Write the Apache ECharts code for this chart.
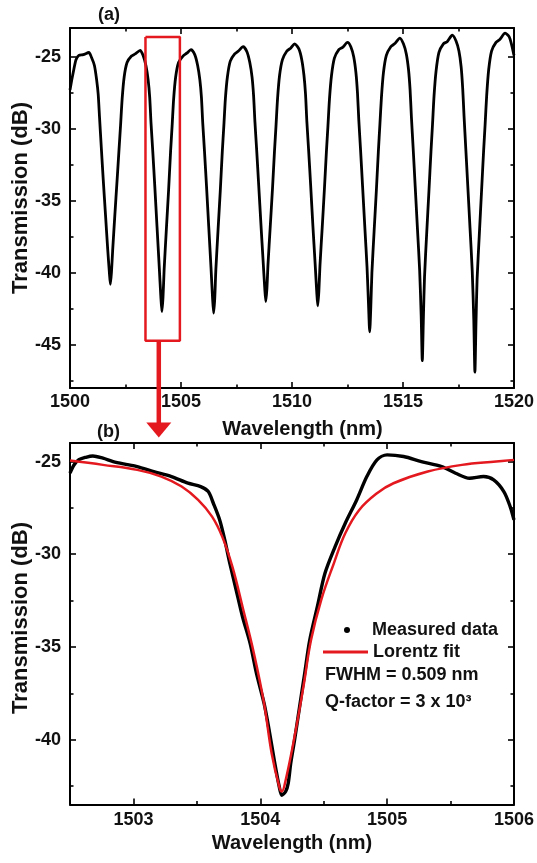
<!DOCTYPE html>
<html><head><meta charset="utf-8">
<script src="https://cdn.jsdelivr.net/npm/echarts@6/dist/echarts.min.js"></script>
<style>html,body{margin:0;padding:0;background:#fff}#c{width:537px;height:863px}</style>
</head><body><div id="c"></div>
<script>
// ---- Panel (a): transmission spectrum, wavelength (nm) vs dB ----
const spectrumA = [
[1500.00,-27.3],[1500.08,-26.6],[1500.17,-25.9],[1500.27,-25.2],[1500.40,-24.9],[1500.60,-24.85],[1500.85,-24.7],
[1500.97,-25.05],[1501.10,-25.6],[1501.20,-26.6],[1501.27,-27.6],[1501.33,-29.2],[1501.41,-31.3],[1501.50,-33.6],[1501.60,-36.0],[1501.70,-38.4],[1501.77,-39.9],[1501.82,-40.8],
[1501.87,-39.9],[1501.92,-38.5],[1502.02,-36.0],[1502.12,-33.6],[1502.21,-31.4],[1502.28,-29.7],[1502.35,-27.9],[1502.44,-26.4],[1502.57,-25.4],[1502.77,-24.95],[1502.94,-24.8],[1503.16,-24.55],
[1503.29,-24.9],[1503.42,-25.6],[1503.52,-26.6],[1503.59,-27.8],[1503.65,-29.6],[1503.73,-31.6],[1503.82,-34.0],[1503.92,-36.8],[1504.02,-39.6],[1504.09,-41.6],[1504.14,-42.7],
[1504.19,-41.7],[1504.24,-39.8],[1504.34,-37.0],[1504.44,-34.3],[1504.53,-31.6],[1504.60,-29.8],[1504.67,-27.9],[1504.76,-26.4],[1504.89,-25.4],[1505.09,-24.95],[1505.26,-24.75],[1505.45,-24.5],
[1505.62,-24.85],[1505.75,-25.6],[1505.85,-26.6],[1505.92,-27.8],[1505.98,-29.6],[1506.06,-31.6],[1506.15,-34.0],[1506.25,-36.8],[1506.35,-39.6],[1506.42,-41.7],[1506.47,-42.8],
[1506.52,-41.8],[1506.57,-39.8],[1506.67,-37.0],[1506.77,-34.3],[1506.86,-31.6],[1506.93,-29.8],[1507.00,-27.9],[1507.09,-26.4],[1507.22,-25.3],[1507.42,-24.8],[1507.59,-24.6],[1507.80,-24.3],
[1507.97,-24.65],[1508.10,-25.4],[1508.20,-26.4],[1508.27,-27.7],[1508.33,-29.5],[1508.41,-31.5],[1508.50,-33.9],[1508.60,-36.6],[1508.70,-39.2],[1508.77,-41.0],[1508.82,-42.0],
[1508.87,-41.1],[1508.92,-39.4],[1509.02,-36.8],[1509.12,-34.2],[1509.21,-31.6],[1509.28,-29.8],[1509.35,-27.9],[1509.44,-26.3],[1509.57,-25.2],[1509.77,-24.6],[1509.94,-24.4],[1510.12,-24.1],
[1510.31,-24.45],[1510.44,-25.2],[1510.54,-26.3],[1510.61,-27.6],[1510.67,-29.5],[1510.75,-31.5],[1510.84,-33.9],[1510.94,-36.7],[1511.04,-39.3],[1511.11,-41.2],[1511.16,-42.3],
[1511.21,-41.3],[1511.26,-39.5],[1511.36,-36.9],[1511.46,-34.2],[1511.55,-31.6],[1511.62,-29.8],[1511.69,-27.9],[1511.78,-26.3],[1511.91,-25.1],[1512.11,-24.5],[1512.28,-24.35],[1512.50,-24.0],
[1512.65,-24.3],[1512.78,-25.0],[1512.88,-26.1],[1512.95,-27.5],[1513.01,-29.4],[1513.09,-31.5],[1513.18,-34.0],[1513.28,-36.8],[1513.38,-39.6],[1513.45,-42.3],[1513.50,-44.1],
[1513.55,-42.4],[1513.60,-40.0],[1513.70,-37.1],[1513.80,-34.3],[1513.89,-31.6],[1513.96,-29.7],[1514.03,-27.8],[1514.12,-26.1],[1514.25,-24.9],[1514.45,-24.3],[1514.62,-24.1],[1514.86,-23.7],
[1515.02,-24.1],[1515.15,-24.8],[1515.25,-25.9],[1515.32,-27.3],[1515.38,-29.2],[1515.46,-31.4],[1515.55,-34.0],[1515.65,-36.9],[1515.75,-39.8],[1515.82,-43.0],[1515.87,-46.1],
[1515.92,-43.1],[1515.97,-40.3],[1516.07,-37.2],[1516.17,-34.3],[1516.26,-31.6],[1516.33,-29.7],[1516.40,-27.7],[1516.49,-26.0],[1516.62,-24.7],[1516.82,-24.1],[1516.99,-23.95],[1517.22,-23.5],
[1517.39,-23.9],[1517.52,-24.6],[1517.62,-25.7],[1517.69,-27.2],[1517.75,-29.1],[1517.83,-31.4],[1517.92,-34.0],[1518.02,-36.9],[1518.12,-39.9],[1518.19,-43.3],[1518.24,-46.9],
[1518.29,-43.4],[1518.34,-40.4],[1518.44,-37.3],[1518.54,-34.3],[1518.63,-31.6],[1518.70,-29.7],[1518.77,-27.7],[1518.86,-25.9],[1518.99,-24.6],[1519.19,-24.0],[1519.36,-23.8],[1519.60,-23.35],
[1519.78,-23.6],[1519.90,-24.2],[1520.00,-24.9]
];
// zoom box drawn on panel (a) and the arrow position, data coordinates
const zoomBox = [[1503.40,-23.62],[1504.95,-23.62],[1504.95,-44.72],[1503.40,-44.72],[1503.40,-23.62]];
const arrowX = 1504.0;

// ---- Panel (b): single resonance ----
const measuredB = [
[1502.50,-25.63],[1502.53,-25.2],[1502.57,-24.9],[1502.62,-24.78],[1502.68,-24.7],[1502.76,-24.82],[1502.84,-25.0],[1502.94,-25.15],
[1503.03,-25.27],[1503.16,-25.54],[1503.30,-25.81],[1503.43,-26.17],[1503.53,-26.35],[1503.59,-26.62],[1503.63,-27.25],[1503.68,-28.15],
[1503.72,-29.23],[1503.76,-30.49],[1503.81,-31.93],[1503.86,-33.37],[1503.92,-34.81],[1503.97,-36.43],[1504.03,-38.05],[1504.07,-39.49],
[1504.11,-41.1],[1504.15,-42.55],[1504.17,-43.0],[1504.20,-42.8],[1504.22,-42.36],[1504.24,-41.28],[1504.27,-40.03],[1504.31,-38.23],
[1504.35,-36.43],[1504.39,-34.63],[1504.45,-32.83],[1504.51,-31.03],[1504.59,-29.59],[1504.67,-28.33],[1504.76,-27.07],[1504.84,-25.81],
[1504.92,-24.91],[1505.00,-24.64],[1505.13,-24.73],[1505.27,-25.0],[1505.43,-25.27],[1505.54,-25.63],[1505.65,-25.9],[1505.76,-25.81],
[1505.84,-25.99],[1505.92,-26.62],[1505.97,-27.43],[1506.00,-28.15]
];
const lorentzB = [
[1502.50,-24.95],[1502.76,-25.18],[1503.03,-25.45],[1503.22,-25.81],[1503.38,-26.35],[1503.51,-27.07],[1503.62,-27.97],[1503.70,-29.05],
[1503.78,-30.67],[1503.86,-32.83],[1503.95,-35.35],[1504.03,-38.05],[1504.09,-40.75],[1504.15,-42.55],[1504.17,-42.8],[1504.20,-42.19],
[1504.27,-39.85],[1504.34,-37.15],[1504.40,-34.63],[1504.48,-32.47],[1504.58,-30.49],[1504.67,-28.87],[1504.78,-27.61],[1504.92,-26.71],
[1505.05,-26.17],[1505.32,-25.54],[1505.59,-25.18],[1505.86,-25.0],[1506.00,-24.91]
];

// ---- Axis ticks ----
const xTicksA = [1500,1505,1510,1515,1520];
const xMinorA = [1502.5,1507.5,1512.5,1517.5];
const yTicksA = [-45,-40,-35,-30,-25];
const yMinorA = [-47.5,-42.5,-37.5,-32.5,-27.5];
const xTicksB = [1503,1504,1505,1506];
const xMinorB = [1503.5,1504.5,1505.5];
const yTicksB = [-40,-35,-30,-25];
const yMinorB = [-42.5,-37.5,-32.5,-27.5];
const rangeA = {xmin:1500, xmax:1520, ymin:-48, ymax:-23};
const rangeB = {xmin:1502.5, xmax:1506, ymin:-43.5, ymax:-24};

const FONT = "'Liberation Sans', Arial, Helvetica, sans-serif";
const RED = '#e3191f';

function axisSet(dim, grid, min, max, major, minor, margin, extra) {
  const p1 = dim === 'x' ? 'bottom' : 'left';
  const p2 = dim === 'x' ? 'top' : 'right';
  const base = {type:'value', gridIndex:grid, min:min, max:max, splitLine:{show:false}};
  const line = {show:true, onZero:false, lineStyle:{color:'#000', width:2}};
  const majT = {show:true, inside:true, length:6, customValues:major, lineStyle:{color:'#000', width:1.6}};
  const minT = {show:true, inside:true, length:3.5, customValues:minor, lineStyle:{color:'#000', width:1.6}};
  return [
    Object.assign({}, base, {position:p1, axisLine:line, axisTick:majT,
      axisLabel:{customValues:major, formatter:function(v){return String(v);},
        fontFamily:FONT, fontWeight:'bold', fontSize:18, color:'#111', margin:margin}}, extra || {}),
    Object.assign({}, base, {position:p1, axisLine:{show:false, onZero:false}, axisTick:minT, axisLabel:{show:false}}),
    Object.assign({}, base, {position:p2, axisLine:line, axisTick:majT, axisLabel:{show:false}}),
    Object.assign({}, base, {position:p2, axisLine:{show:false, onZero:false}, axisTick:minT, axisLabel:{show:false}})
  ];
}

const chart = echarts.init(document.getElementById('c'), null, {renderer:'canvas'});
const xAxes = [].concat(
  axisSet('x', 0, rangeA.xmin, rangeA.xmax, xTicksA, xMinorA, 5,
    {name:'Wavelength (nm)', nameLocation:'middle', nameGap:31,
     nameTextStyle:{fontFamily:FONT, fontWeight:'bold', fontSize:20, color:'#111', padding:[0,0,0,21]}}),
  axisSet('x', 1, rangeB.xmin, rangeB.xmax, xTicksB, xMinorB, 7,
    {name:'Wavelength (nm)', nameLocation:'middle', nameGap:29,
     nameTextStyle:{fontFamily:FONT, fontWeight:'bold', fontSize:20, color:'#111'}})
);
const yAxes = [].concat(
  axisSet('y', 0, rangeA.ymin, rangeA.ymax, yTicksA, yMinorA, 9),
  axisSet('y', 1, rangeB.ymin, rangeB.ymax, yTicksB, yMinorB, 9)
);

const legendText = {fontFamily:FONT, fontWeight:'bold', fontSize:18, color:'#111'};
const txt = (t, x, y, size) => ({type:'text', x:x, y:y, z:10,
  style:{text:t, fontFamily:FONT, fontWeight:'bold', fontSize:size, fill:'#111', textAlign:'left', textVerticalAlign:'middle'}});
const vtxt = (t, x, y) => ({type:'text', x:x, y:y, z:10, rotation:Math.PI/2,
  style:{text:t, fontFamily:FONT, fontWeight:'bold', fontSize:22, fill:'#111', textAlign:'center', textVerticalAlign:'middle'}});

chart.setOption({
  animation:false,
  backgroundColor:'#fff',
  grid:[
    {left:70, right:20, top:28, bottom:475},
    {left:70, right:20, top:443, bottom:58.5}
  ],
  xAxis:xAxes,
  yAxis:yAxes,
  legend:[
    {left:344, top:621, padding:0, itemWidth:6, itemHeight:6,
     data:[{name:'Measured data', icon:'circle'}],
     textStyle:Object.assign({padding:[0,0,0,17]}, legendText)},
    {left:323, top:643, padding:0, itemWidth:45, itemHeight:3,
     data:[{name:'Lorentz fit', icon:'rect'}],
     textStyle:legendText}
  ],
  series:[
    {type:'line', name:'Spectrum', xAxisIndex:0, yAxisIndex:0, data:spectrumA, showSymbol:false,
     smooth:0.25, lineStyle:{color:'#000', width:2.8}, itemStyle:{color:'#000'}},
    {type:'line', name:'box', xAxisIndex:0, yAxisIndex:0, data:zoomBox, showSymbol:false,
     lineStyle:{color:RED, width:2.5}, itemStyle:{color:RED}, z:5},
    {type:'line', name:'Measured data', xAxisIndex:4, yAxisIndex:4, data:measuredB, showSymbol:false,
     smooth:0.3, lineStyle:{color:'#000', width:3.4}, itemStyle:{color:'#000'}},
    {type:'line', name:'Lorentz fit', xAxisIndex:4, yAxisIndex:4, data:lorentzB, showSymbol:false,
     smooth:0.4, lineStyle:{color:RED, width:2.5}, itemStyle:{color:RED}}
  ]
});

// arrow from zoom box down to panel (b), positions derived from the axes
const pStart = chart.convertToPixel({xAxisIndex:0, yAxisIndex:0}, [arrowX, zoomBox[2][1]]);
const gridBTop = chart.convertToPixel({xAxisIndex:4, yAxisIndex:4}, [rangeB.xmin, rangeB.ymax])[1];
const tipY = gridBTop - 5.5;
const headH = 15, headW = 25;

chart.setOption({
  graphic:[
    {type:'line', z:20, shape:{x1:pStart[0], y1:pStart[1], x2:pStart[0], y2:tipY - headH + 1},
     style:{stroke:RED, lineWidth:4.5}},
    {type:'polygon', z:20, shape:{points:[[pStart[0]-headW/2, tipY-headH],[pStart[0]+headW/2, tipY-headH],[pStart[0], tipY]]},
     style:{fill:RED}},
    txt('(a)', 98, 15, 18),
    txt('(b)', 97, 432, 18),
    vtxt('Transmission (dB)', 21, 198),
    vtxt('Transmission (dB)', 21, 618),
    txt('FWHM = 0.509 nm', 325, 675, 18),
    txt('Q-factor = 3 x 10³', 325, 702, 18)
  ]
});
</script>
</body></html>
